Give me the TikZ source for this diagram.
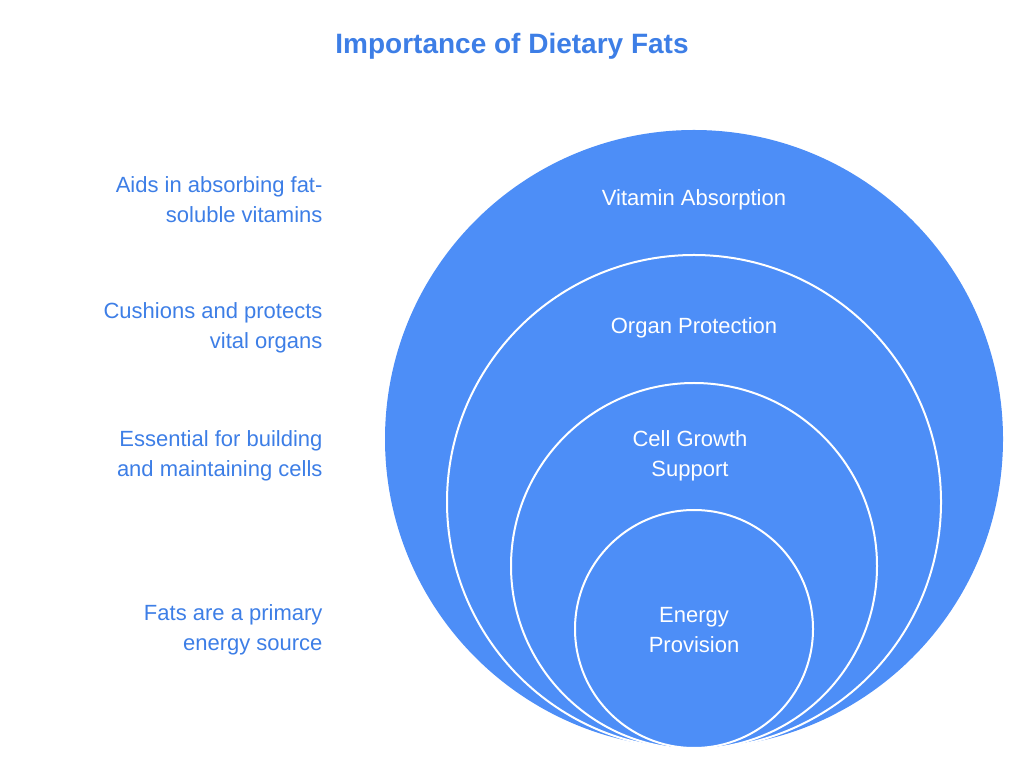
\documentclass[tikz,border=0pt]{standalone}
\usepackage{fontspec}
\setmainfont{Liberation Sans}
\definecolor{fill}{HTML}{4D8EF7}
\definecolor{txt}{HTML}{3D7EE6}
\begin{document}
\begin{tikzpicture}[x=1pt,y=1pt,
  ring/.style={circle,fill=fill,draw=white,line width=2pt,inner sep=0pt},
  lab/.style={white,font=\fontsize{22}{30}\selectfont,align=center},
  side/.style={txt,font=\fontsize{22}{30}\selectfont,align=right,anchor=east}]
\useasboundingbox (0,0) rectangle (1024,768);
\node[txt,font=\bfseries\fontsize{28}{34}\selectfont] (title) at (512,722) {Importance of Dietary Fats};
\node[ring,draw=none,minimum size=618pt] (c1) at (694,329) {};
\node[ring,minimum size=494pt] (c2) at (694,266) {};
\node[ring,minimum size=366pt] (c3) at (694,202) {};
\node[ring,minimum size=238pt] (c4) at (694,139) {};
\node[lab] (l1) at (694,568) {Vitamin Absorption};
\node[lab] (l2) at (694,440) {Organ Protection};
\node[lab] (l3) at (690,312) {Cell Growth\\Support};
\node[lab] (l4) at (694,138) {Energy\\Provision};
\node[side] (s1) at (326,568) {Aids in absorbing fat-\\soluble vitamins};
\node[side] (s2) at (326,440) {Cushions and protects\\vital organs};
\node[side] (s3) at (326,312) {Essential for building\\and maintaining cells};
\node[side] (s4) at (326,138) {Fats are a primary\\energy source};
\end{tikzpicture}
\end{document}
